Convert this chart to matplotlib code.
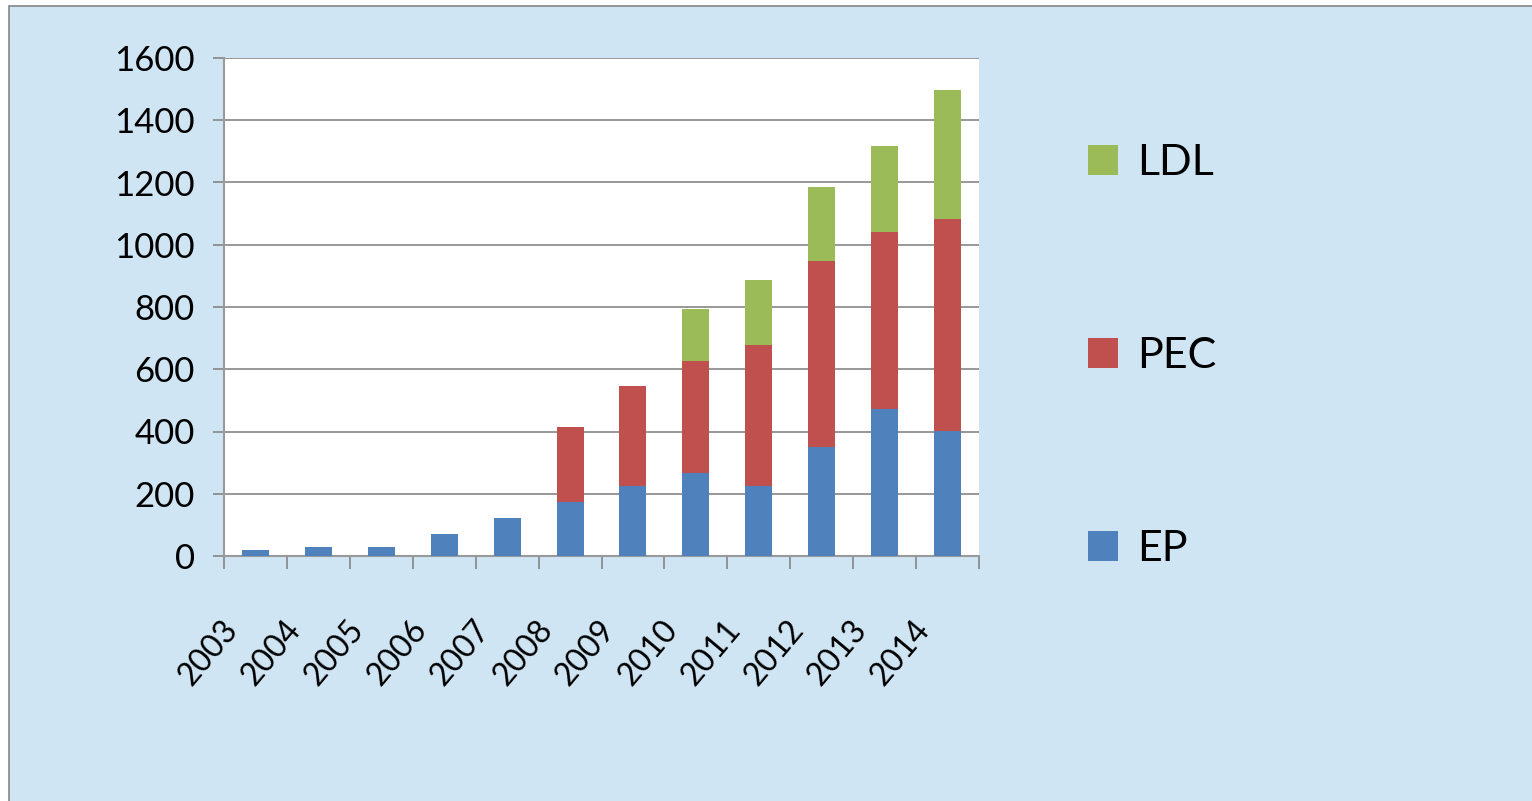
import numpy as np
import matplotlib.pyplot as plt
from matplotlib.patches import Rectangle
from matplotlib.transforms import ScaledTranslation

plt.rcParams['font.family'] = ['Lato', 'DejaVu Sans']

years = ['2003', '2004', '2005', '2006', '2007', '2008', '2009', '2010', '2011', '2012', '2013', '2014']
ep = [19, 29, 29, 71, 122, 174, 226, 267, 226, 350, 473, 402]
pec = [0, 0, 0, 0, 0, 241, 321, 360, 452, 599, 569, 682]
ldl = [0, 0, 0, 0, 0, 0, 0, 167, 209, 237, 276, 414]

c_ep = '#4F81BD'
c_pec = '#C0504D'
c_ldl = '#9BBB59'
bg = '#CFE5F3'
grey = '#868686'

fig = plt.figure(figsize=(15.32, 8.01), dpi=100, facecolor='white')
# blue chart area, grey border only visible on the top and left
fig.patches.append(Rectangle((9 / 1532, -0.05), 1.1, 1.05 - 6 / 801, transform=fig.transFigure,
                             facecolor=bg, edgecolor=grey, linewidth=1.2, zorder=-5))

ax = fig.add_axes([224 / 1532, 1 - 556 / 801, (979 - 224) / 1532, (556 - 58) / 801])
ax.set_facecolor('white')

x = np.arange(len(years))
w = 0.43
ep_a = np.array(ep)
pec_a = np.array(pec)
ax.bar(x, ep, w, color=c_ep, label='EP', zorder=3)
ax.bar(x, pec, w, bottom=ep_a, color=c_pec, label='PEC', zorder=3)
ax.bar(x, ldl, w, bottom=ep_a + pec_a, color=c_ldl, label='LDL', zorder=3)

ax.set_xlim(-0.5, len(years) - 0.5)
ax.set_ylim(0, 1600)
ax.set_yticks(np.arange(0, 1601, 200))
ax.yaxis.grid(True, color=grey, linewidth=1.2, zorder=1)
ax.set_axisbelow(True)

for s in ['top', 'right']:
    ax.spines[s].set_visible(False)
for s in ['left', 'bottom']:
    ax.spines[s].set_color('#9a9a9a')
    ax.spines[s].set_linewidth(1.5)

ax.tick_params(axis='y', length=8, width=1.2, color=grey, pad=13, labelsize=25)

# tick marks between categories, labels under each bar
ax.set_xticks(x)
ax.set_xticklabels(years, fontsize=23, rotation=50, ha='center', va='center')
ax.set_xticks(np.arange(-0.5, len(years), 1), minor=True)
ax.tick_params(axis='x', which='major', length=0, pad=0)
ax.tick_params(axis='x', which='minor', length=9, width=1.2, color=grey)
off = ScaledTranslation(-0.47, -0.97, fig.dpi_scale_trans)
for lab in ax.get_xticklabels():
    lab.set_transform(lab.get_transform() + off)

h, l = ax.get_legend_handles_labels()
ax.legend(h[::-1], l[::-1], loc='center left', bbox_to_anchor=(1088 / 1532, 1 - 356 / 801),
          bbox_transform=fig.transFigure, frameon=False, fontsize=31,
          labelspacing=3.6, handlelength=0.7, handleheight=0.7,
          handletextpad=0.45, borderpad=0, borderaxespad=0)

fig.savefig('out.png', dpi=100, facecolor=fig.get_facecolor())
